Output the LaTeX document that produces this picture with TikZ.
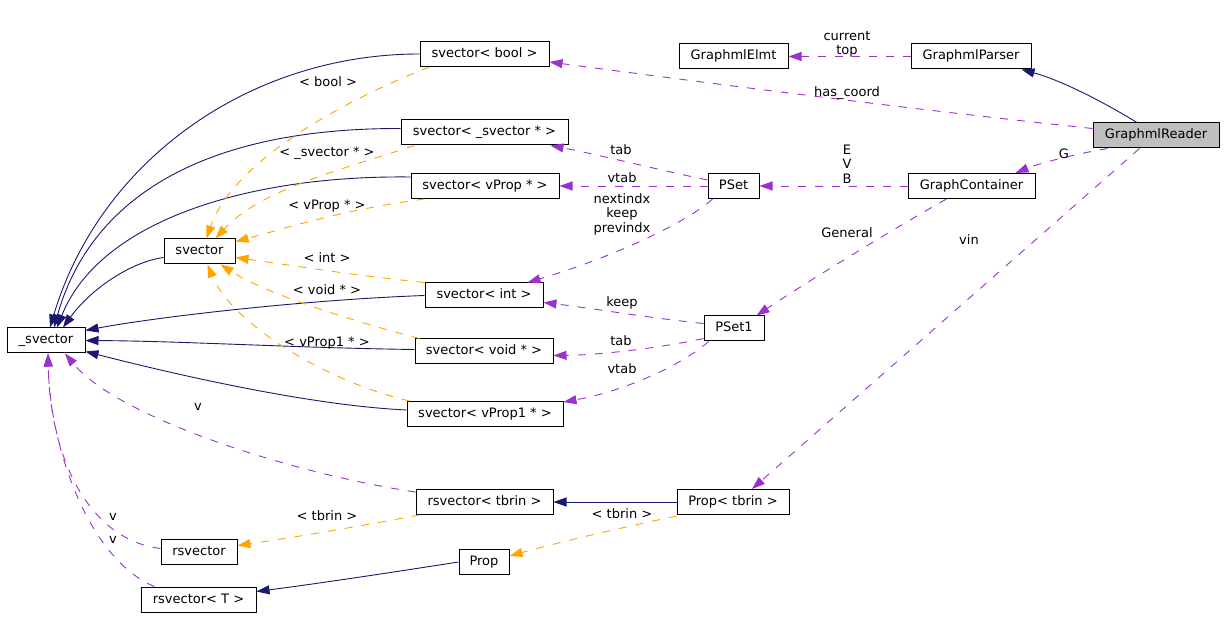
\documentclass[tikz,border=0pt]{standalone}
\usepackage{fontspec}
\setmainfont{DejaVu Sans}
\usetikzlibrary{arrows.meta,calc}
\definecolor{navy}{HTML}{191970}
\definecolor{orng}{HTML}{FFA500}
\definecolor{purp}{HTML}{9A32CD}
\definecolor{hilite}{HTML}{BFBFBF}
\begin{document}
\begin{tikzpicture}[x=1pt,y=-1pt,
  every node/.style={font=\fontsize{13}{14.5}\selectfont, inner sep=0pt},
  box/.style={draw=black, line width=1pt, minimum height=25pt, fill=white, text height=9.5pt, text depth=2.5pt},
  lbl/.style={text height=9.5pt, text depth=2.5pt},
  mlbl/.style={align=center},
  tip/.style={-{Triangle[length=13pt,width=9pt]}},
  inherit/.style={tip, draw=navy, line width=0.9pt},
  templ/.style={tip, draw=orng, line width=0.9pt, dash pattern=on 8pt off 9pt},
  usage/.style={tip, draw=purp, line width=0.9pt, dash pattern=on 8pt off 9pt}]
\useasboundingbox (0,0) rectangle (1224,620);
\fill[white] (0,0) rectangle (1224,620);

% nodes
\node[box, minimum width=129pt] (sbool) at (484.5,54) {svector< bool >};
\node[box, minimum width=109pt] (gelmt) at (733.5,56.5) {GraphmlElmt};
\node[box, minimum width=120pt] (gparser) at (971,56.5) {GraphmlParser};
\node[box, minimum width=126pt, fill=hilite] (greader) at (1156,135.5) {GraphmlReader};
\node[box, minimum width=167pt] (ssv) at (484.5,132.5) {svector< \_svector * >};
\node[box, minimum width=148pt] (svprop) at (485,186) {svector< vProp * >};
\node[box, minimum width=51pt] (pset) at (733.5,186) {PSet};
\node[box, minimum width=127pt] (gcont) at (971.5,186) {GraphContainer};
\node[box, minimum width=71pt] (svector) at (199.5,251.5) {svector};
\node[box, minimum width=118pt] (sint) at (484,295.5) {svector< int >};
\node[box, minimum width=60pt] (pset1) at (734,328.5) {PSet1};
\node[box, minimum width=78pt] (usv) at (46,340.5) {\_svector};
\node[box, minimum width=138pt] (svoid) at (484,351.5) {svector< void * >};
\node[box, minimum width=156pt] (svprop1) at (485,414) {svector< vProp1 * >};
\node[box, minimum width=137pt] (rstbrin) at (484.5,502) {rsvector< tbrin >};
\node[box, minimum width=112pt] (proptbrin) at (733,502) {Prop< tbrin >};
\node[box, minimum width=76pt] (rsvector) at (199,551.5) {rsvector};
\node[box, minimum width=50pt] (prop) at (484,562) {Prop};
\node[box, minimum width=115pt] (rsT) at (198.5,599.5) {rsvector< T >};

% inheritance (navy)
\draw[inherit] (sbool.west) .. controls (250,54) and (100,160) .. ($(usv.north)+(4,0)$);
\draw[inherit] ($(ssv.west)+(0,-4)$) .. controls (200,128) and (90,200) .. ($(usv.north)+(8,0)$);
\draw[inherit] ($(svprop.west)+(0,-9)$) .. controls (250,175) and (100,220) .. ($(usv.north)+(11,0)$);
\draw[inherit] ($(svector.west)+(0,6)$) .. controls (130,262) and (90,290) .. ($(usv.north)+(17,0)$);
\draw[inherit] (sint.west) .. controls (300,300) and (150,318) .. ($(usv.east)+(0,-10)$);
\draw[inherit] ($(svoid.west)+(0,-2)$) .. controls (300,348) and (180,341) .. (usv.east);
\draw[inherit] ($(svprop1.west)+(0,-4)$) .. controls (300,405) and (150,368) .. ($(usv.east)+(0,11)$);
\draw[inherit] (proptbrin.west) -- (rstbrin.east);
\draw[inherit] (prop.west) .. controls (420,568) and (330,582) .. ($(rsT.east)+(0,-8)$);
\draw[inherit] ($(greader.north)+(-19,0)$) .. controls (1100,100) and (1060,80) .. ($(gparser.south east)+(-10,0)$);

% template instantiation (orange)
\draw[templ] ($(sbool.south west)+(10,0)$) .. controls (320,110) and (230,170) .. ($(svector.north)+(7,0)$);
\draw[templ] ($(ssv.south west)+(14,0)$) .. controls (340,170) and (260,190) .. ($(svector.north)+(16,0)$);
\draw[templ] ($(svprop.south west)+(14,0)$) .. controls (340,210) and (280,230) .. ($(svector.north east)+(0,3)$);
\draw[templ] (sint.north west) .. controls (350,275) and (290,265) .. ($(svector.east)+(0,6)$);
\draw[templ] ($(svoid.north west)+(5,0)$) .. controls (330,315) and (260,290) .. ($(svector.south)+(21,0)$);
\draw[templ] ($(svprop1.north west)+(3,0)$) .. controls (320,380) and (230,320) .. ($(svector.south)+(8,0)$);
\draw[templ] ($(rstbrin.south west)+(4,0)$) .. controls (350,528) and (290,538) .. ($(rsvector.east)+(0,-6)$);
\draw[templ] ($(proptbrin.south west)+(0,1)$) .. controls (620,528) and (560,542) .. ($(prop.east)+(0,-6)$);

% usage (purple)
\draw[usage] (gparser.west) -- (gelmt.east);
\draw[usage] ($(greader.west)+(0,-7)$) .. controls (900,108) and (700,82) .. ($(sbool.east)+(0,8)$);
\draw[usage] ($(greader.south west)+(15,0)$) .. controls (1080,153) and (1040,163) .. ($(gcont.north east)+(-20,0)$);
\draw[usage] ($(greader.south west)+(47,0)$) -- ($(proptbrin.north)+(19,0)$);
\draw[usage] (gcont.west) -- (pset.east);
\draw[usage] ($(gcont.south west)+(39,0)$) .. controls (900,225) and (810,280) .. ($(pset1.north east)+(-8,0)$);
\draw[usage] ($(pset.west)+(0,-6)$) .. controls (650,168) and (600,155) .. ($(ssv.south east)+(-18,0)$);
\draw[usage] (pset.west) -- (svprop.east);
\draw[usage] ($(pset.south west)+(5,0)$) .. controls (690,220) and (620,255) .. ($(sint.north east)+(-16,0)$);
\draw[usage] ($(pset1.west)+(0,-5)$) .. controls (650,318) and (590,308) .. ($(sint.east)+(0,7)$);
\draw[usage] ($(pset1.west)+(0,10)$) .. controls (660,348) and (600,355) .. ($(svoid.east)+(0,4)$);
\draw[usage] ($(pset1.south west)+(5,0)$) .. controls (680,367) and (620,392) .. ($(svprop1.north east)+(0,1)$);
\draw[usage] ($(rstbrin.west)+(0,-10)$) .. controls (300,475) and (120,420) .. ($(usv.south)+(19,0)$);
\draw[usage] ($(rsvector.west)+(0,-3)$) .. controls (90,540) and (50,460) .. ($(usv.south)+(2,0)$);
\draw[usage] ($(rsT.north west)+(14,0)$) .. controls (90,560) and (50,450) .. ($(usv.south)+(2,0)$);

% labels
\node[lbl] (lbool) at (328,83) {< bool >};
\node[lbl] (lssv) at (327,153) {< \_svector * >};
\node[lbl] (lvprop) at (327,206) {< vProp * >};
\node[lbl] (lint) at (327,259) {< int >};
\node[lbl] (lvoid) at (327,291) {< void * >};
\node[lbl] (lvprop1) at (327,343) {< vProp1 * >};
\node[lbl] (ltbrin1) at (327,517) {< tbrin >};
\node[lbl] (ltbrin2) at (622,515) {< tbrin >};
\node[mlbl] (lcur) at (847,44.5) {current\\top};
\node[lbl] (lhas) at (847,93) {has\_coord};
\node[lbl] (lG) at (1064,155) {G};
\node[mlbl] (lEVB) at (847,164) {E\\V\\B};
\node[lbl] (lgen) at (847,234) {General};
\node[lbl] (lvin) at (969,241) {vin};
\node[lbl] (ltab) at (621,151) {tab};
\node[lbl] (lvtab) at (622,179) {vtab};
\node[mlbl] (lnext) at (622,214) {nextindx\\keep\\previndx};
\node[lbl] (lkeep) at (622,303) {keep};
\node[lbl] (ltab1) at (621,342) {tab};
\node[lbl] (lvtab1) at (622,370) {vtab};
\node[lbl] (lv1) at (198,407) {v};
\node[lbl] (lv2) at (113,517) {v};
\node[lbl] (lv3) at (113,540) {v};
\end{tikzpicture}
\end{document}
